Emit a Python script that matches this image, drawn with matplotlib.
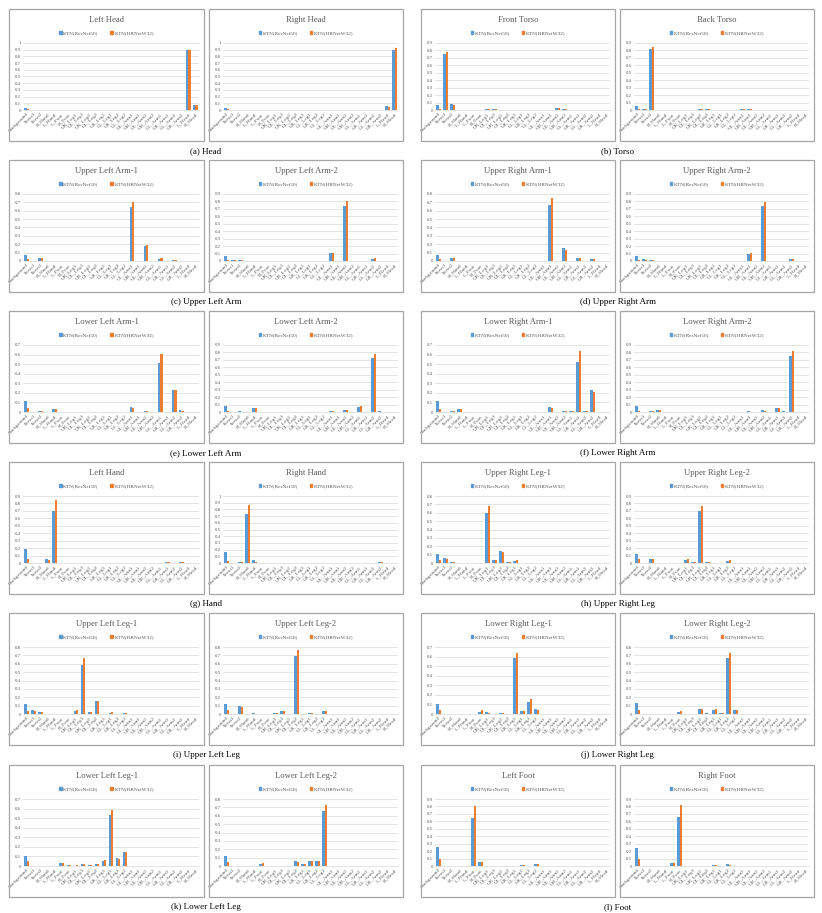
import numpy as np
import matplotlib
matplotlib.use("Agg")
import matplotlib.pyplot as plt
from matplotlib.patches import Patch, Rectangle

# ---------------- data ----------------
parts = ["Background", "Torso1", "Torso2", "R_Hand", "L_Hand", "L_Foot", "R_Foot",
         "UR_Leg1", "UL_Leg1", "UR_Leg2", "UL_Leg2", "LR_Leg1", "LL_Leg1", "LR_Leg2", "LL_Leg2",
         "UL_Arm1", "UR_Arm1", "UL_Arm2", "UR_Arm2", "LL_Arm1", "LR_Arm1", "LL_Arm2", "LR_Arm2",
         "L_Head", "R_Head"]
series_names = ["KTN(ResNet50)", "KTN(HRNetW32)"]

left_head_res  = [0.03, 0, 0.005, 0, 0,  0, 0, 0, 0, 0,  0, 0, 0, 0, 0,  0, 0, 0, 0, 0,  0, 0, 0, 0.89, 0.07]
left_head_hr   = [0.01, 0, 0.005, 0, 0,  0, 0, 0, 0, 0,  0, 0, 0, 0, 0,  0, 0, 0, 0, 0,  0, 0, 0, 0.90, 0.08]
right_head_res = [0.03, 0, 0.005, 0, 0,  0, 0, 0, 0, 0,  0, 0, 0, 0, 0,  0, 0, 0, 0, 0,  0, 0, 0, 0.06, 0.90]
right_head_hr  = [0.01, 0, 0.005, 0, 0,  0, 0, 0, 0, 0,  0, 0, 0, 0, 0,  0, 0, 0, 0, 0,  0, 0, 0, 0.05, 0.93]
front_torso_res = [0.07, 0.75, 0.08, 0, 0,  0, 0, 0.02, 0.02, 0.005,  0.005, 0, 0, 0, 0,  0, 0, 0.03, 0.02, 0,  0, 0, 0, 0.005, 0.005]
front_torso_hr  = [0.02, 0.78, 0.07, 0, 0,  0, 0, 0.02, 0.02, 0.005,  0.005, 0, 0, 0, 0,  0, 0, 0.03, 0.02, 0,  0, 0, 0, 0.005, 0.005]
back_torso_res  = [0.06, 0.02, 0.82, 0, 0,  0, 0, 0, 0, 0.02,  0.015, 0, 0, 0, 0,  0.01, 0.01, 0.005, 0.005, 0,  0, 0, 0, 0.005, 0.005]
back_torso_hr   = [0.02, 0.02, 0.85, 0, 0,  0, 0, 0, 0, 0.02,  0.02, 0, 0, 0, 0,  0.01, 0.01, 0.005, 0.005, 0,  0, 0, 0, 0.005, 0.005]

ul_arm1_res = [0.07, 0, 0.04, 0.005, 0,  0, 0, 0, 0, 0,  0, 0, 0, 0, 0,  0.65, 0.005, 0.18, 0.005, 0.02,  0, 0.015, 0, 0, 0]
ul_arm1_hr  = [0.02, 0, 0.03, 0.005, 0,  0, 0, 0, 0, 0,  0, 0, 0, 0, 0,  0.70, 0.005, 0.19, 0.005, 0.03,  0, 0.015, 0, 0, 0]
ul_arm2_res = [0.07, 0.02, 0.02, 0, 0,  0, 0, 0, 0, 0,  0, 0, 0, 0, 0,  0.11, 0, 0.74, 0, 0.005,  0, 0.03, 0, 0, 0]
ul_arm2_hr  = [0.02, 0.02, 0.01, 0, 0,  0, 0, 0, 0, 0,  0, 0, 0, 0, 0,  0.11, 0, 0.80, 0, 0.005,  0, 0.035, 0, 0, 0]
ur_arm1_res = [0.07, 0, 0.04, 0, 0,  0, 0, 0, 0, 0,  0, 0, 0, 0, 0,  0.005, 0.67, 0.005, 0.15, 0,  0.03, 0, 0.02, 0, 0]
ur_arm1_hr  = [0.02, 0, 0.04, 0, 0,  0, 0, 0, 0, 0,  0, 0, 0, 0, 0,  0.005, 0.75, 0.005, 0.13, 0,  0.03, 0, 0.02, 0, 0]
ur_arm2_res = [0.07, 0.03, 0.02, 0, 0,  0, 0, 0, 0, 0,  0, 0, 0, 0, 0,  0, 0.09, 0.005, 0.74, 0,  0.005, 0, 0.025, 0, 0]
ur_arm2_hr  = [0.02, 0.02, 0.015, 0, 0,  0, 0, 0, 0, 0,  0, 0, 0, 0, 0,  0, 0.11, 0.005, 0.79, 0,  0.005, 0, 0.03, 0, 0]

ll_arm1_res = [0.11, 0, 0.01, 0.005, 0.03,  0, 0, 0, 0, 0,  0, 0, 0, 0, 0,  0.05, 0, 0.015, 0, 0.51,  0.005, 0.23, 0.02, 0, 0]
ll_arm1_hr  = [0.04, 0, 0.01, 0.005, 0.035,  0, 0, 0, 0, 0,  0, 0, 0, 0, 0,  0.04, 0, 0.01, 0, 0.61,  0.005, 0.23, 0.01, 0, 0]
ll_arm2_res = [0.08, 0, 0.01, 0, 0.05,  0, 0, 0, 0, 0,  0, 0, 0, 0, 0,  0.01, 0, 0.03, 0, 0.07,  0, 0.72, 0.01, 0, 0]
ll_arm2_hr  = [0.02, 0, 0.005, 0, 0.05,  0, 0, 0, 0, 0,  0, 0, 0, 0, 0,  0.01, 0, 0.03, 0, 0.08,  0, 0.78, 0.005, 0, 0]
lr_arm1_res = [0.11, 0, 0.01, 0.03, 0,  0, 0, 0, 0, 0,  0, 0, 0, 0, 0,  0, 0.05, 0, 0.015, 0.01,  0.52, 0.015, 0.23, 0, 0]
lr_arm1_hr  = [0.03, 0, 0.01, 0.03, 0,  0, 0, 0, 0, 0,  0, 0, 0, 0, 0,  0, 0.04, 0, 0.01, 0.01,  0.64, 0.01, 0.21, 0, 0]
lr_arm2_res = [0.08, 0, 0.01, 0.03, 0,  0, 0, 0, 0, 0,  0, 0, 0, 0, 0,  0, 0.01, 0, 0.03, 0,  0.06, 0.01, 0.75, 0, 0]
lr_arm2_hr  = [0.02, 0, 0.01, 0.03, 0,  0, 0, 0, 0, 0,  0, 0, 0, 0, 0,  0, 0.005, 0, 0.02, 0,  0.06, 0.005, 0.82, 0, 0]

left_hand_res  = [0.19, 0, 0, 0.05, 0.70,  0, 0, 0, 0, 0,  0.005, 0, 0, 0, 0,  0, 0, 0, 0, 0,  0.01, 0, 0.02, 0, 0]
left_hand_hr   = [0.05, 0, 0, 0.04, 0.85,  0, 0, 0, 0, 0,  0.005, 0, 0, 0, 0,  0, 0, 0, 0, 0,  0.01, 0, 0.02, 0, 0]
right_hand_res = [0.16, 0, 0.01, 0.73, 0.04,  0, 0, 0, 0, 0,  0, 0, 0, 0, 0,  0, 0, 0, 0, 0,  0, 0, 0.02, 0, 0]
right_hand_hr  = [0.03, 0, 0.01, 0.87, 0.01,  0, 0, 0, 0, 0,  0, 0, 0, 0, 0,  0, 0, 0, 0, 0,  0, 0, 0.02, 0, 0]
ur_leg1_res = [0.11, 0.06, 0.01, 0, 0,  0, 0, 0.60, 0.04, 0.14,  0.01, 0.02, 0, 0.005, 0,  0, 0, 0, 0, 0,  0, 0, 0, 0, 0]
ur_leg1_hr  = [0.04, 0.05, 0.01, 0, 0,  0, 0, 0.68, 0.04, 0.13,  0.01, 0.03, 0, 0.005, 0,  0, 0, 0, 0, 0,  0, 0, 0, 0, 0]
ur_leg2_res = [0.12, 0, 0.06, 0, 0,  0, 0, 0.04, 0.01, 0.70,  0.02, 0, 0, 0.03, 0,  0, 0, 0, 0, 0,  0, 0, 0, 0, 0]
ur_leg2_hr  = [0.05, 0, 0.06, 0, 0,  0, 0, 0.05, 0.01, 0.77,  0.01, 0, 0, 0.04, 0,  0, 0, 0, 0, 0,  0, 0, 0, 0, 0]

ul_leg1_res = [0.12, 0.05, 0.02, 0, 0,  0, 0, 0.04, 0.59, 0.02,  0.15, 0, 0.01, 0, 0.01,  0, 0, 0, 0, 0,  0, 0, 0, 0, 0]
ul_leg1_hr  = [0.04, 0.04, 0.02, 0, 0,  0, 0, 0.05, 0.67, 0.02,  0.15, 0, 0.02, 0, 0.01,  0, 0, 0, 0, 0,  0, 0, 0, 0, 0]
ul_leg2_res = [0.12, 0, 0.09, 0, 0.01,  0, 0, 0.01, 0.03, 0,  0.69, 0, 0.01, 0, 0.03,  0, 0, 0, 0, 0,  0, 0, 0, 0, 0]
ul_leg2_hr  = [0.05, 0, 0.08, 0, 0.005,  0, 0, 0.01, 0.03, 0,  0.76, 0, 0.01, 0, 0.04,  0, 0, 0, 0, 0,  0, 0, 0, 0, 0]
lr_leg1_res = [0.10, 0, 0, 0, 0,  0, 0.02, 0.02, 0, 0.01,  0, 0.59, 0.03, 0.13, 0.05,  0, 0, 0, 0, 0,  0.005, 0, 0, 0, 0]
lr_leg1_hr  = [0.04, 0, 0, 0, 0,  0, 0.04, 0.01, 0, 0.01,  0, 0.64, 0.03, 0.16, 0.04,  0, 0, 0, 0, 0,  0.005, 0, 0, 0, 0]
lr_leg2_res = [0.13, 0, 0, 0, 0,  0, 0.02, 0, 0, 0.06,  0.01, 0.05, 0.01, 0.67, 0.05,  0, 0, 0, 0, 0,  0, 0, 0, 0, 0]
lr_leg2_hr  = [0.05, 0, 0, 0, 0,  0, 0.03, 0, 0, 0.06,  0.005, 0.06, 0.01, 0.73, 0.05,  0, 0, 0, 0, 0,  0, 0, 0, 0, 0]

ll_leg1_res = [0.10, 0, 0, 0, 0,  0.03, 0.01, 0.005, 0.02, 0.01,  0.02, 0.05, 0.53, 0.08, 0.15,  0, 0, 0, 0, 0,  0, 0, 0, 0, 0]
ll_leg1_hr  = [0.05, 0, 0, 0, 0,  0.03, 0.01, 0.01, 0.02, 0.01,  0.02, 0.06, 0.59, 0.07, 0.15,  0, 0, 0, 0, 0,  0, 0, 0, 0, 0]
ll_leg2_res = [0.12, 0, 0.005, 0, 0,  0.02, 0, 0.005, 0, 0.005,  0.06, 0.02, 0.06, 0.06, 0.66,  0, 0, 0, 0, 0,  0, 0, 0, 0, 0]
ll_leg2_hr  = [0.05, 0, 0.005, 0, 0,  0.03, 0, 0.005, 0, 0.005,  0.05, 0.02, 0.06, 0.06, 0.73,  0, 0, 0, 0, 0,  0, 0, 0, 0, 0]
left_foot_res  = [0.25, 0, 0, 0.005, 0,  0.65, 0.06, 0, 0, 0,  0, 0, 0.01, 0, 0.03,  0, 0, 0, 0, 0,  0, 0, 0, 0, 0]
left_foot_hr   = [0.10, 0, 0, 0.005, 0,  0.81, 0.05, 0, 0, 0,  0, 0, 0.01, 0, 0.03,  0, 0, 0, 0, 0,  0, 0, 0, 0, 0]
right_foot_res = [0.24, 0, 0, 0, 0,  0.04, 0.66, 0, 0, 0,  0, 0.01, 0, 0.03, 0,  0, 0, 0, 0, 0,  0, 0, 0, 0, 0]
right_foot_hr  = [0.10, 0, 0, 0, 0,  0.04, 0.82, 0, 0, 0,  0, 0.01, 0, 0.02, 0,  0, 0, 0, 0, 0,  0, 0, 0, 0, 0]

panel_titles = [
    ["Left Head", "Right Head", "Front Torso", "Back Torso"],
    ["Upper Left Arm-1", "Upper Left Arm-2", "Upper Right Arm-1", "Upper Right Arm-2"],
    ["Lower Left Arm-1", "Lower Left Arm-2", "Lower Right Arm-1", "Lower Right Arm-2"],
    ["Left Hand", "Right Hand", "Upper Right Leg-1", "Upper Right Leg-2"],
    ["Upper Left Leg-1", "Upper Left Leg-2", "Lower Right Leg-1", "Lower Right Leg-2"],
    ["Lower Left Leg-1", "Lower Left Leg-2", "Left Foot", "Right Foot"],
]
panel_series = [
    [(left_head_res, left_head_hr), (right_head_res, right_head_hr), (front_torso_res, front_torso_hr), (back_torso_res, back_torso_hr)],
    [(ul_arm1_res, ul_arm1_hr), (ul_arm2_res, ul_arm2_hr), (ur_arm1_res, ur_arm1_hr), (ur_arm2_res, ur_arm2_hr)],
    [(ll_arm1_res, ll_arm1_hr), (ll_arm2_res, ll_arm2_hr), (lr_arm1_res, lr_arm1_hr), (lr_arm2_res, lr_arm2_hr)],
    [(left_hand_res, left_hand_hr), (right_hand_res, right_hand_hr), (ur_leg1_res, ur_leg1_hr), (ur_leg2_res, ur_leg2_hr)],
    [(ul_leg1_res, ul_leg1_hr), (ul_leg2_res, ul_leg2_hr), (lr_leg1_res, lr_leg1_hr), (lr_leg2_res, lr_leg2_hr)],
    [(ll_leg1_res, ll_leg1_hr), (ll_leg2_res, ll_leg2_hr), (left_foot_res, left_foot_hr), (right_foot_res, right_foot_hr)],
]
y_max = [
    [1.0, 1.0, 0.9, 0.9],
    [0.8, 0.9, 0.8, 0.9],
    [0.7, 0.9, 0.7, 0.9],
    [0.9, 1.0, 0.8, 0.9],
    [0.8, 0.8, 0.7, 0.8],
    [0.7, 0.8, 0.9, 0.9],
]
captions = [
    ["(a) Head", "(b) Torso"],
    ["(c) Upper Left Arm", "(d) Upper Right Arm"],
    ["(e) Lower Left Arm", "(f) Lower Right Arm"],
    ["(g) Hand", "(h) Upper Right Leg"],
    ["(i) Upper Left Leg", "(j) Lower Right Leg"],
    ["(k) Lower Left Leg", "(l) Foot"],
]

# ---------------- style / layout ----------------
W, H = 822, 913
BLUE = "#5B9BD5"
ORANGE = "#ED7D31"
SERIF = ["Liberation Serif", "DejaVu Serif"]
plt.rcParams["font.family"] = SERIF

fig = plt.figure(figsize=(W / 100, H / 100), dpi=100)
fig.patch.set_facecolor("white")

col_x = [(9, 204), (209, 403), (421, 615), (620, 814)]
row_top = [9, 160, 311, 462, 613, 765]
PANEL_H = 132


def fx(x):
    return x / W


def fy(y):
    return 1 - y / H


x = np.arange(len(parts))
bw = 0.32

for r in range(6):
    top = row_top[r]
    for c in range(4):
        x0, x1 = col_x[c]
        # panel frame
        fig.add_artist(Rectangle((fx(x0), fy(top + PANEL_H)), fx(x1 - x0), (PANEL_H) / H,
                                 transform=fig.transFigure, fill=False,
                                 edgecolor="#A6A6A6", linewidth=0.9))
        # plot area
        left, right = x0 + 14, x1 - 5
        ptop, pbot = top + 34, top + 101
        ax = fig.add_axes([fx(left), fy(pbot), fx(right - left), (pbot - ptop) / H])
        res, hr = panel_series[r][c]
        ax.bar(x - bw / 2, res, bw, color=BLUE, zorder=3)
        ax.bar(x + bw / 2, hr, bw, color=ORANGE, zorder=3)
        ym = y_max[r][c]
        ax.set_ylim(0, ym)
        ax.set_xlim(-0.5, len(parts) - 0.5)
        yt = np.round(np.arange(0, ym + 1e-9, 0.1), 1)
        ax.set_yticks(yt)
        ax.set_yticklabels([f"{t:g}" for t in yt], fontsize=3.5, color="#595959")
        ax.set_xticks(x)
        ax.set_xticklabels(parts, rotation=45, ha="right", rotation_mode="anchor",
                           fontsize=3.8, color="#595959")
        ax.tick_params(length=0, pad=1.5)
        ax.yaxis.grid(True, color="#D9D9D9", linewidth=0.5, zorder=0)
        ax.set_axisbelow(True)
        for s in ["left", "right", "top"]:
            ax.spines[s].set_visible(False)
        ax.spines["bottom"].set_color("#D9D9D9")
        ax.spines["bottom"].set_linewidth(0.5)
        ax.patch.set_alpha(0)
        # title
        cx = (x0 + x1) / 2
        fig.text(fx(cx), fy(top + 11), panel_titles[r][c], ha="center", va="center",
                 fontsize=6.2, color="#595959")
        # legend
        handles = [Patch(color=BLUE), Patch(color=ORANGE)]
        ax.legend(handles, series_names, loc="center", bbox_to_anchor=(fx(cx), fy(top + 24)),
                  bbox_transform=fig.transFigure, ncol=2, frameon=False, fontsize=3.8,
                  handlelength=0.5, handleheight=0.6, handletextpad=0.3, columnspacing=2.2,
                  labelcolor="#595959", borderpad=0)
    # captions
    for g in range(2):
        gx = (col_x[2 * g][0] + col_x[2 * g + 1][1]) / 2
        fig.text(fx(gx), fy(top + PANEL_H + 10), captions[r][g], ha="center", va="center",
                 fontsize=6.5, color="black")

fig.savefig("out.png", dpi=100, facecolor="white")
